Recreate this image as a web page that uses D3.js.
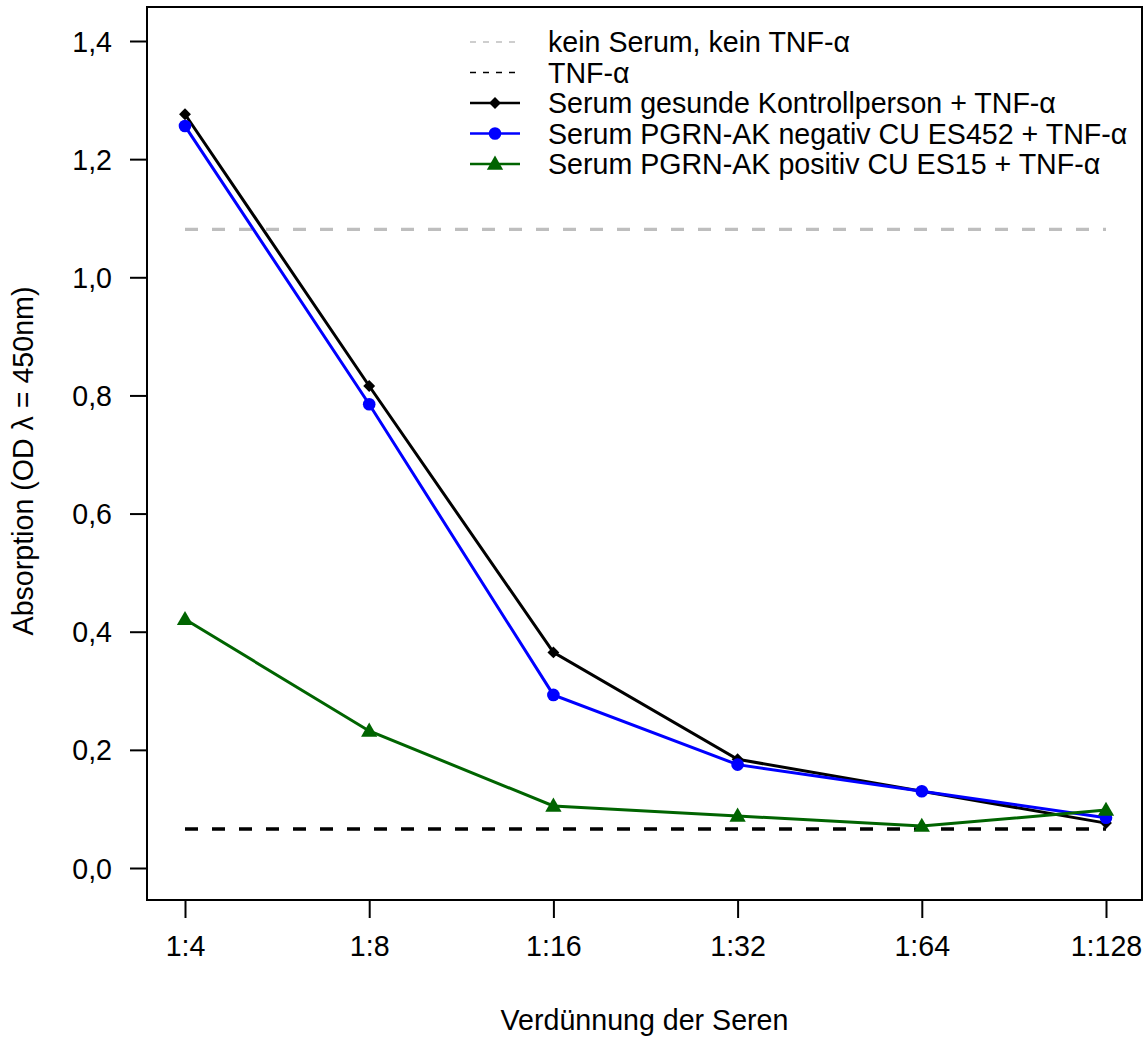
<!DOCTYPE html>
<html><head><meta charset="utf-8">
<script src="https://cdn.jsdelivr.net/npm/d3@7"></script>
<style>body{margin:0;background:#fff}svg{display:block}text{font-family:"Liberation Sans",Arial,sans-serif}</style>
</head><body>
<svg id="c" width="1148" height="1037"></svg>
<script>
const categories = ["1:4","1:8","1:16","1:32","1:64","1:128"];
const yTicks = [0,0.2,0.4,0.6,0.8,1.0,1.2,1.4];
const kontrolle = [1.276,0.816,0.365,0.184,0.130,0.076];
const negativ = [1.256,0.785,0.293,0.175,0.130,0.085];
const positiv = [0.421,0.232,0.105,0.088,0.071,0.098];
const keinSerum = 1.081;
const tnfOnly = 0.066;
const legendLabels = ["kein Serum, kein TNF-α","TNF-α","Serum gesunde Kontrollperson + TNF-α","Serum PGRN-AK negativ CU ES452 + TNF-α","Serum PGRN-AK positiv CU ES15 + TNF-α"];

const svg = d3.select("#c");
const box = {l:147,r:1142,t:7,b:900};
const x = d3.scalePoint().domain(categories).range([185,1106]);
const y = d3.scaleLinear().domain([0,1.4]).range([868,41]);
const fs = 28.6;

// box
svg.append("rect").attr("x",box.l).attr("y",box.t).attr("width",box.r-box.l).attr("height",box.b-box.t)
  .attr("fill","none").attr("stroke","#000").attr("stroke-width",2);

// y axis
const yAx = svg.append("g").attr("transform",`translate(${box.l},0)`)
  .call(d3.axisLeft(y).tickValues(yTicks).tickSize(17).tickPadding(18).tickFormat(d=>d3.format(".1f")(d).replace(".",",")));
yAx.select(".domain").remove();
yAx.selectAll("line").attr("stroke-width",2);
yAx.selectAll("text").attr("font-size",fs).attr("font-family","Liberation Sans, Arial, sans-serif").attr("fill","#000").attr("dy","0.35em");

// x axis
const xAx = svg.append("g").attr("transform",`translate(0,${box.b})`)
  .call(d3.axisBottom(x).tickSize(18).tickPadding(18));
xAx.select(".domain").remove();
xAx.selectAll("line").attr("stroke-width",2);
xAx.selectAll("text").attr("font-size",fs).attr("font-family","Liberation Sans, Arial, sans-serif").attr("fill","#000");

// titles
svg.append("text").attr("x",(box.l+box.r)/2).attr("y",1030).attr("text-anchor","middle").attr("font-size",fs).text("Verdünnung der Seren");
svg.append("text").attr("transform",`translate(33,${461}) rotate(-90)`).attr("text-anchor","middle").attr("font-size",fs).text("Absorption (OD λ = 450nm)");

// reference lines
const xs = [categories[0],categories[categories.length-1]];
svg.append("line").attr("x1",x(xs[0])).attr("x2",x(xs[1])).attr("y1",y(keinSerum)).attr("y2",y(keinSerum))
  .attr("stroke","#bebebe").attr("stroke-width",3.3).attr("stroke-dasharray","13,14");
svg.append("line").attr("x1",x(xs[0])).attr("x2",x(xs[1])).attr("y1",y(tnfOnly)).attr("y2",y(tnfOnly))
  .attr("stroke","#000").attr("stroke-width",3.3).attr("stroke-dasharray","13,14");

const line = d3.line().x((d,i)=>x(categories[i])).y(d=>y(d));
const series = [
  {vals:positiv,color:"#006400",sym:d3.symbolTriangle,size:115},
  {vals:negativ,color:"#0000ff",sym:d3.symbolCircle,size:125},
  {vals:kontrolle,color:"#000000",sym:d3.symbolDiamond2,size:90}
];
[series[2],series[1],series[0]].forEach(s=>{
  svg.append("path").attr("d",line(s.vals)).attr("fill","none").attr("stroke",s.color).attr("stroke-width",3);
  svg.selectAll(null).data(s.vals).enter().append("path")
    .attr("d",d3.symbol().type(s.sym).size(s.size))
    .attr("transform",(d,i)=>`translate(${x(categories[i])},${y(d)+(s.sym===d3.symbolTriangle?1:0)})`)
    .attr("fill",s.color);
});

// legend
const lg = svg.append("g");
const lx1=470, lx2=520, tx=548, ly0=42, dy=30.5;
const legItems = [
  {c:"#bebebe",dash:"6,7",sym:null},
  {c:"#000",dash:"6,7",sym:null},
  {c:"#000",dash:null,sym:d3.symbolDiamond2,size:90},
  {c:"#0000ff",dash:null,sym:d3.symbolCircle,size:125},
  {c:"#006400",dash:null,sym:d3.symbolTriangle,size:115}
];
legItems.forEach((it,i)=>{
  const yy = ly0+i*dy;
  lg.append("line").attr("x1",lx1).attr("x2",lx2).attr("y1",yy).attr("y2",yy).attr("stroke",it.c)
    .attr("stroke-width",it.dash?1.6:2.5).attr("stroke-dasharray",it.dash);
  if(it.sym) lg.append("path").attr("d",d3.symbol().type(it.sym).size(it.size)).attr("transform",`translate(${(lx1+lx2)/2},${yy+(it.sym===d3.symbolTriangle?1:0)})`).attr("fill",it.c);
  lg.append("text").attr("x",tx).attr("y",yy).attr("dy","0.35em").attr("font-size",fs).text(legendLabels[i]);
});
</script>
</body></html>
